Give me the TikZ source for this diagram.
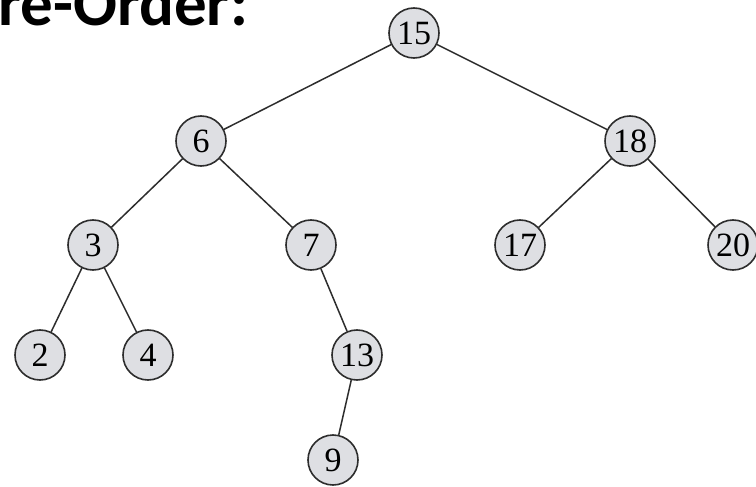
\documentclass[tikz,border=0pt]{standalone}
\usepackage{fontspec}
\setmainfont{Liberation Serif}
\newfontfamily\titlefont{Carlito}
\definecolor{nodegray}{RGB}{222,223,227}
\definecolor{edgegray}{RGB}{45,45,45}
\begin{document}
\begin{tikzpicture}[x=1pt,y=-1pt,
  tn/.style={circle, draw=edgegray, line width=1.6pt, fill=nodegray, minimum size=50pt, inner sep=0pt, font=\fontsize{34}{34}\selectfont},
  edge/.style={draw=edgegray, line width=1.5pt}]
\useasboundingbox (0,0) rectangle (756,487);
\node[anchor=base west, inner sep=0pt, font=\titlefont\bfseries\fontsize{65}{65}\selectfont] (title) at (-2,26) {re-Order:};
\node[tn] (n15) at (414,33) {15};
\node[tn] (n6) at (201,141) {6};
\node[tn] (n18) at (630,141) {18};
\node[tn] (n3) at (93,245) {3};
\node[tn] (n7) at (311,245) {7};
\node[tn] (n17) at (520,245) {17};
\node[tn] (n20) at (733,245) {20};
\node[tn] (n2) at (40,355) {2};
\node[tn] (n4) at (148,355) {4};
\node[tn] (n13) at (357,355) {13};
\node[tn] (n9) at (333,460) {9};
\draw[edge] (n15) -- (n6);
\draw[edge] (n15) -- (n18);
\draw[edge] (n6) -- (n3);
\draw[edge] (n6) -- (n7);
\draw[edge] (n18) -- (n17);
\draw[edge] (n18) -- (n20);
\draw[edge] (n3) -- (n2);
\draw[edge] (n3) -- (n4);
\draw[edge] (n7) -- (n13);
\draw[edge] (n13) -- (n9);
\end{tikzpicture}
\end{document}
